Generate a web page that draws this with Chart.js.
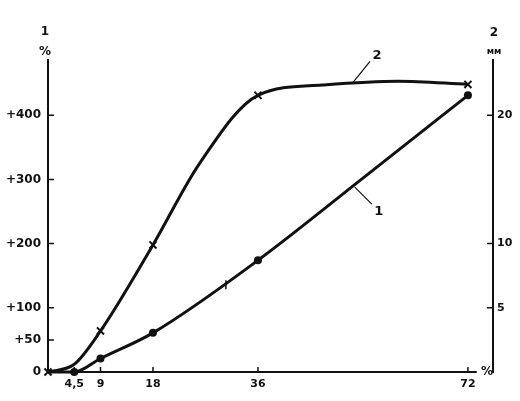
<!DOCTYPE html>
<html>
<head>
<meta charset="utf-8">
<script src="https://cdn.jsdelivr.net/npm/chart.js@4.4.1/dist/chart.umd.min.js"></script>
<style>
  html, body { margin: 0; padding: 0; background: #fff; }
  canvas { display: block; }
</style>
</head>
<body>
<canvas id="growthChart" width="520" height="401"></canvas>
<script>
// curve 1 (dots), values in % on the left axis
const curve1X = [0, 4.5, 9, 18, 36, 54, 72];
const curve1Y = [0, 0, 21, 61, 174, 302, 431];
const curve1Marked = [0, 1, 1, 1, 1, 0, 1];

// curve 2 (crosses)
const curve2X = [0, 4.5, 9, 18, 26, 36, 47, 60, 72];
const curve2Y = [0, 12, 64, 198, 325, 431, 447, 453, 448];
const curve2Marked = [1, 0, 1, 1, 0, 1, 0, 0, 1];

const xTicks = [4.5, 9, 18, 36, 72];
const leftTicks = [0, 50, 100, 200, 300, 400];
const rightTicks = [5, 10, 20];

const INK = '#111';
const FONT = '"DejaVu Sans", sans-serif';

const toPoints = (xs, ys) => xs.map((x, i) => ({ x: x, y: ys[i] }));

// inward ticks, axis titles, curve numbers
const annotations = {
    id: 'annotations',
    afterDraw(chart) {
        const { ctx, chartArea: a, scales: { x, y, y2 } } = chart;
        ctx.save();
        ctx.strokeStyle = INK;
        ctx.fillStyle = INK;

        // x axis line stops short of the right axis
        ctx.lineWidth = 2;
        ctx.beginPath();
        ctx.moveTo(a.left, a.bottom);
        ctx.lineTo(x.getPixelForValue(73.5), a.bottom);
        ctx.stroke();

        ctx.lineWidth = 1.5;
        ctx.beginPath();
        xTicks.forEach(v => {
            const px = x.getPixelForValue(v);
            ctx.moveTo(px, a.bottom);
            ctx.lineTo(px, a.bottom - 5);
        });
        leftTicks.filter(v => v > 0).forEach(v => {
            const py = y.getPixelForValue(v);
            ctx.moveTo(a.left, py);
            ctx.lineTo(a.left + 6, py);
        });
        rightTicks.forEach(v => {
            const py = y2.getPixelForValue(v);
            ctx.moveTo(a.right, py);
            ctx.lineTo(a.right - 6, py);
        });
        // small mark on curve 1
        const mx = x.getPixelForValue(30.5), my = y.getPixelForValue(132);
        ctx.moveTo(mx, my - 7);
        ctx.lineTo(mx, my + 2);
        ctx.stroke();

        // leaders to curve numbers
        ctx.lineWidth = 1.2;
        const l2x = x.getPixelForValue(52.3), l2y = y.getPixelForValue(451);
        const l1x = x.getPixelForValue(52.6), l1y = y.getPixelForValue(288);
        ctx.beginPath();
        ctx.moveTo(l2x, l2y); ctx.lineTo(l2x + 17, l2y - 21);
        ctx.moveTo(l1x, l1y); ctx.lineTo(l1x + 17, l1y + 17);
        ctx.stroke();

        ctx.textAlign = 'center';
        ctx.textBaseline = 'middle';
        ctx.font = 'bold 13px ' + FONT;
        ctx.fillText('2', l2x + 24, l2y - 27);
        ctx.fillText('1', l1x + 24, l1y + 25);

        ctx.font = 'bold 12px ' + FONT;
        ctx.fillText('1', a.left - 3, 32);
        ctx.fillText('%', a.left - 3, 52);
        ctx.fillText('2', a.right + 1, 33);
        ctx.fillText('%', a.right - 6, a.bottom);
        ctx.font = 'bold 9px ' + FONT;
        ctx.fillText('мм', a.right + 1, 52);
        ctx.restore();
    }
};

new Chart(document.getElementById('growthChart'), {
    type: 'line',
    data: {
        datasets: [
            {
                label: '1',
                data: toPoints(curve1X, curve1Y),
                borderColor: INK,
                backgroundColor: INK,
                borderWidth: 3,
                cubicInterpolationMode: 'monotone',
                pointStyle: 'circle',
                pointRadius: curve1Marked.map(m => m ? 4 : 0),
                pointBorderWidth: 0,
                clip: false
            },
            {
                label: '2',
                data: toPoints(curve2X, curve2Y),
                borderColor: INK,
                backgroundColor: INK,
                borderWidth: 3,
                cubicInterpolationMode: 'monotone',
                pointStyle: 'crossRot',
                pointRadius: curve2Marked.map(m => m ? 5 : 0),
                pointBorderWidth: 2,
                clip: false
            }
        ]
    },
    options: {
        responsive: false,
        animation: false,
        devicePixelRatio: 1,
        layout: { padding: { top: 60, left: 0, right: 0, bottom: 0 } },
        plugins: { legend: { display: false }, tooltip: { enabled: false } },
        scales: {
            x: {
                type: 'linear',
                min: 0,
                max: 76.3,
                afterBuildTicks: s => { s.ticks = xTicks.map(v => ({ value: v })); },
                afterFit: s => { s.height = 29; },
                border: { display: false },
                grid: { display: false, drawTicks: false },
                ticks: {
                    color: INK,
                    padding: 6,
                    maxRotation: 0,
                    autoSkip: false,
                    font: { family: FONT, size: 11, weight: 'bold' },
                    callback: v => String(v).replace('.', ',')
                }
            },
            y: {
                position: 'left',
                min: 0,
                max: 486,
                afterBuildTicks: s => { s.ticks = leftTicks.map(v => ({ value: v })); },
                afterFit: s => { s.width = 48; },
                border: { display: true, color: INK, width: 2 },
                grid: { display: true, drawOnChartArea: false, drawTicks: false },
                ticks: {
                    color: INK,
                    padding: 7,
                    autoSkip: false,
                    font: { family: FONT, size: 12, weight: 'bold' },
                    callback: v => v === 0 ? '0' : '+' + v
                }
            },
            y2: {
                position: 'right',
                min: 0,
                max: 24.3,
                afterBuildTicks: s => { s.ticks = rightTicks.map(v => ({ value: v })); },
                afterFit: s => { s.width = 27; },
                border: { display: true, color: INK, width: 2 },
                grid: { display: true, drawOnChartArea: false, drawTicks: false },
                ticks: {
                    color: INK,
                    padding: 4,
                    autoSkip: false,
                    font: { family: FONT, size: 11, weight: 'bold' }
                }
            }
        }
    },
    plugins: [annotations]
});
</script>
</body>
</html>
